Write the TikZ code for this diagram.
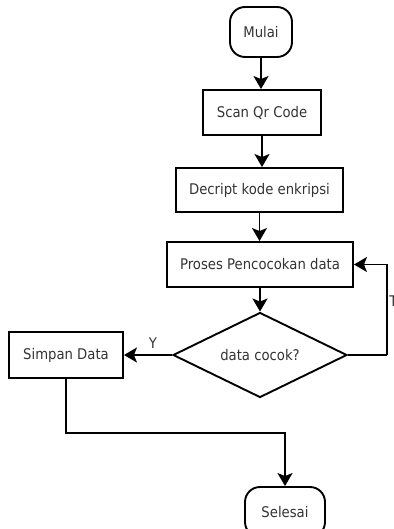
\documentclass[tikz,border=0pt]{standalone}
\usepackage{fontspec}
\setmainfont{DejaVu Sans}[FakeStretch=0.9]
\usetikzlibrary{shapes.geometric,arrows.meta}
\definecolor{txt}{HTML}{333333}
\begin{document}
\begin{tikzpicture}[x=1pt,y=-1pt,
  every node/.style={font=\fontsize{14.7}{17}\selectfont, text=txt, line width=1.9pt, inner sep=0pt},
  procbox/.style={draw, rectangle},
  termbox/.style={draw, rectangle, rounded corners=15pt},
  decbox/.style={draw, diamond, aspect=2},
  flow/.style={draw, line width=1.9pt, -{Stealth[length=13pt,width=15pt,inset=3pt]}},
  plainline/.style={draw, line width=1.9pt}]
\useasboundingbox (0,0) rectangle (393,529);
\node[termbox, minimum width=62pt, minimum height=50pt] (mulai) at (261,32) {Mulai};
\node[procbox, minimum width=118pt, minimum height=45pt] (scan) at (262,112.5) {Scan Qr Code};
\node[procbox, minimum width=167pt, minimum height=44pt] (decript) at (259.5,190) {Decript kode enkripsi};
\node[procbox, minimum width=186pt, minimum height=45pt] (proses) at (260,264.5) {Proses Pencocokan data};
\node[decbox, minimum width=174pt, minimum height=85pt] (dia) at (260,355) {data cocok?};
\node[procbox, minimum width=114pt, minimum height=46pt] (simpan) at (66,355) {Simpan Data};
\node[termbox, minimum width=80pt, minimum height=50pt] (selesai) at (285,512) {Selesai};
\coordinate (loopx) at (387,355);
\coordinate (bend) at (66,433);
\path[flow] (mulai.south) -- (mulai.south |- scan.north);
\path[flow] (scan.south) -- (scan.south |- decript.north);
\path[flow] (decript.south) -- (decript.south |- proses.north);
\path[flow] (proses.south) -- (dia.north);
\path[flow] (loopx |- dia.east) -- (loopx) |- (proses.east);
\path[plainline] (dia.east) -- (loopx);
\path[flow] (dia.west) -- node[above=6pt, pos=0.4] (ylab) {Y} (simpan.east);
\node[anchor=west] (tlab) at (388.5,301) {T};
\path[flow] (simpan.south) -- (bend) -| (selesai.north);
\end{tikzpicture}
\end{document}
